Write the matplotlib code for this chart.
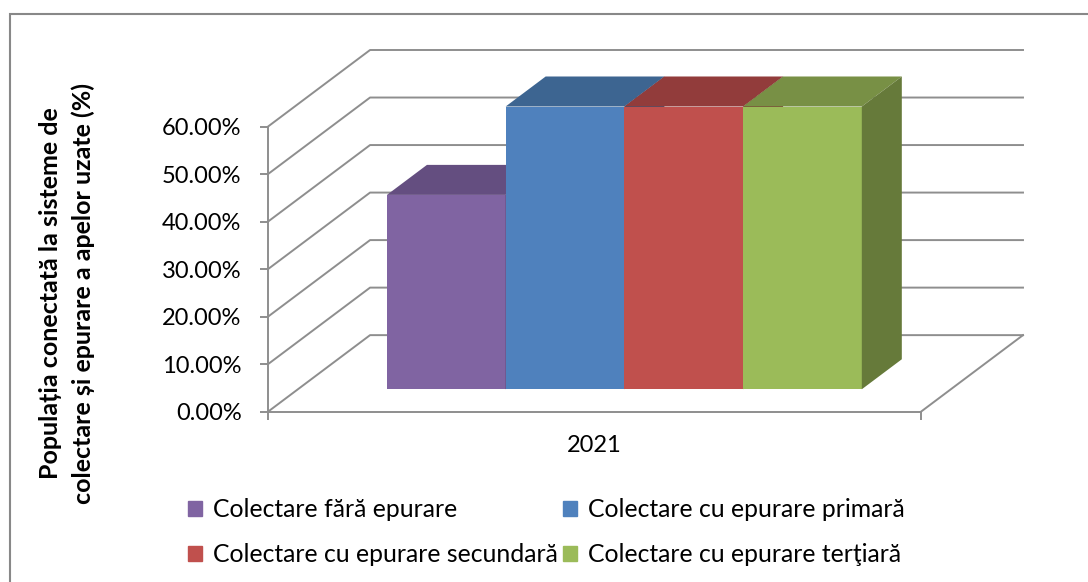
import matplotlib
matplotlib.use('Agg')
import matplotlib.pyplot as plt
from matplotlib.patches import Patch, Rectangle
from matplotlib.ticker import PercentFormatter

plt.rcParams['font.family'] = ['Lato', 'DejaVu Sans']

# date
categorie = '2021'
serii = ['Colectare fără epurare', 'Colectare cu epurare primară',
         'Colectare cu epurare secundară', 'Colectare cu epurare terţiară']
valori = [0.409, 0.595, 0.595, 0.595]
yticks = [0, 0.1, 0.2, 0.3, 0.4, 0.5, 0.6]

culori = ['#8064A2', '#4F81BD', '#C0504D', '#9BBB59']
culori_sus = ['#644E80', '#3D6591', '#923C3B', '#789045']
culori_lat = ['#56436E', '#35577D', '#7E3432', '#667A3A']

# geometria "3D" (in unitati ale axelor)
DX, DY = 0.1563, 0.1611   # deplasarea peretelui din spate
Z0, Z1 = 0.293, 0.685     # adancimea barelor (fata / spate)
GAP = 1.5                 # gap width 150%
gri = '#8E8E8E'

fig = plt.figure(figsize=(10.88, 5.82), dpi=100)
ax = fig.add_axes([268 / 1088, 1 - 411.7 / 582, 755 / 1088, 361.7 / 582])
ax.set_xlim(0, 1 + DX)
ax.set_ylim(0, yticks[-1] + DY)
ax.patch.set_alpha(0)

# pereti + linii de grila
for v in yticks:
    ax.plot([0, DX, 1 + DX], [v, v + DY, v + DY], color=gri, lw=1.4, clip_on=False, zorder=1)
ax.plot([1, 1 + DX], [0, DY], color=gri, lw=1.4, clip_on=False, zorder=1)

# bare
n = len(valori)
w = 1 / (n + GAP)
ddx = (Z1 - Z0) * DX
ddy = (Z1 - Z0) * DY
for i, (val, c, cs, cl) in enumerate(zip(valori, culori, culori_sus, culori_lat)):
    x0 = GAP * w / 2 + i * w + Z0 * DX
    y0 = Z0 * DY
    ax.fill([x0, x0 + w, x0 + w, x0], [y0, y0, y0 + val, y0 + val], color=c, lw=0, zorder=3)
    ax.fill([x0, x0 + w, x0 + w + ddx, x0 + ddx],
            [y0 + val, y0 + val, y0 + val + ddy, y0 + val + ddy], color=cs, lw=0, zorder=3)
    ax.fill([x0 + w, x0 + w + ddx, x0 + w + ddx, x0 + w],
            [y0, y0 + ddy, y0 + val + ddy, y0 + val], color=cl, lw=0, zorder=3)

# axe
for s in ['top', 'right']:
    ax.spines[s].set_visible(False)
ax.spines['left'].set_bounds(0, yticks[-1])
ax.spines['bottom'].set_bounds(0, 1)
for s in ['left', 'bottom']:
    ax.spines[s].set_color(gri)
    ax.spines[s].set_linewidth(1.4)
ax.set_yticks(yticks)
ax.yaxis.set_major_formatter(PercentFormatter(1, decimals=2))
ax.tick_params(axis='y', length=6, width=1.4, color=gri, pad=13, labelsize=17)
ax.set_xticks([0.5], [categorie])
ax.set_xticks([0, 1], minor=True)
ax.tick_params(axis='x', which='major', length=0, pad=17, labelsize=17)
ax.tick_params(axis='x', which='minor', length=6, width=1.4, color=gri)

fig.text(67 / 1088, 1 - 293 / 582,
         'Populația conectată la sisteme de\ncolectare și epurare a apelor uzate (%)',
         rotation=90, ha='center', va='center', multialignment='center',
         fontsize=18, fontweight='bold', linespacing=1.5)

# legenda (ordonata pe randuri)
handles = [Patch(color=c) for c in culori]
order = [0, 2, 1, 3]
fig.legend([handles[k] for k in order], [serii[k] for k in order], ncol=2,
           loc='upper left', bbox_to_anchor=(188 / 1088, 1 - 498 / 582),
           frameon=False, fontsize=17.8, handlelength=0.55, handleheight=0.55,
           handletextpad=0.45, columnspacing=0.22, labelspacing=0.9,
           borderpad=0, borderaxespad=0)

# chenarul graficului
fig.add_artist(Rectangle((10 / 1088, -0.1), 1.2, 1 - 14 / 582 + 0.1,
                         transform=fig.transFigure, fill=False, ec='#888888', lw=1.5))

fig.savefig('out.png', dpi=100)
